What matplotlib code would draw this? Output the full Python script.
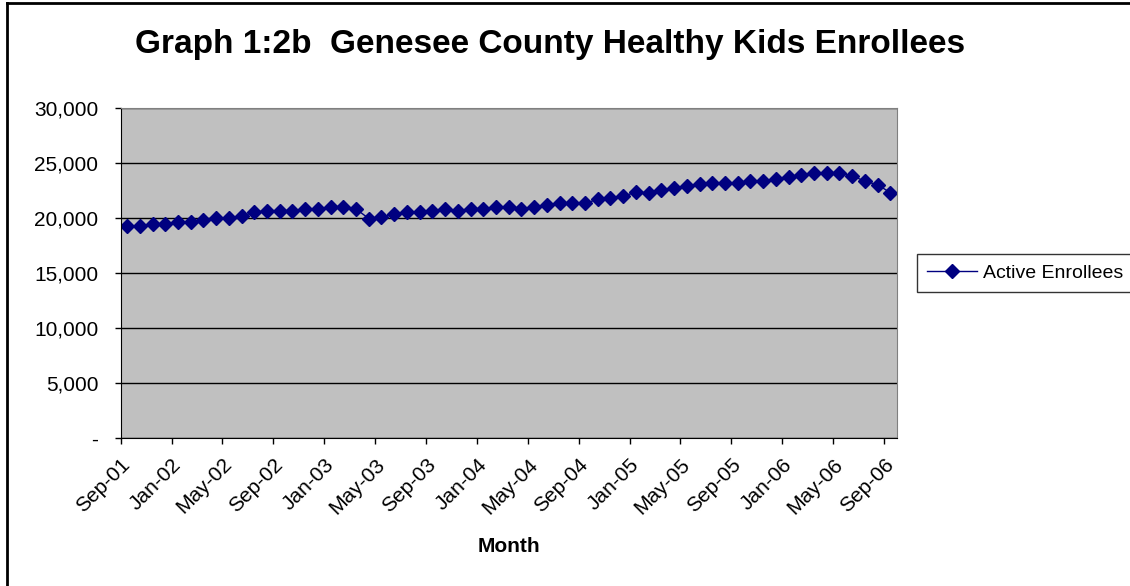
import numpy as np
import matplotlib.pyplot as plt
from matplotlib.lines import Line2D
from matplotlib.ticker import FixedLocator, FuncFormatter

plt.rcParams['font.family'] = ['Liberation Sans', 'DejaVu Sans']

# monthly active enrollees, Sep-01 .. Sep-06
enrollees = [19300, 19300, 19450, 19450, 19640, 19640, 19820, 19970, 19970, 20180,
             20520, 20670, 20670, 20670, 20820, 20820, 21030, 21030, 20820, 19950,
             20120, 20330, 20520, 20520, 20670, 20850, 20670, 20850, 20850, 21000,
             21000, 20820, 21000, 21180, 21330, 21330, 21330, 21700, 21850, 22000,
             22330, 22300, 22550, 22700, 22900, 23060, 23210, 23210, 23210, 23390,
             23390, 23570, 23760, 23940, 24060, 24060, 24060, 23850, 23330, 23030,
             22300]
tick_labels = ["Sep-01", "Jan-02", "May-02", "Sep-02", "Jan-03", "May-03", "Sep-03",
               "Jan-04", "May-04", "Sep-04", "Jan-05", "May-05", "Sep-05", "Jan-06",
               "May-06", "Sep-06"]
y_ticks = [0, 5000, 10000, 15000, 20000, 25000, 30000]

W, H = 1130, 586
fig = plt.figure(figsize=(W / 100, H / 100), dpi=100)
ax = fig.add_axes([120.7 / W, 1 - 438 / H, (896.7 - 120.7) / W, (438 - 108) / H])

x = np.arange(len(enrollees))
ax.plot(x, enrollees, "-", color="#000080", lw=1, marker="D", ms=7,
        mfc="#000080", mec="#000080", label="Active Enrollees")

ax.set_facecolor("#C0C0C0")
ax.set_xlim(-0.5, len(enrollees) - 0.5)
ax.set_ylim(0, 30000)
ax.yaxis.set_major_locator(FixedLocator(y_ticks))
ax.yaxis.set_major_formatter(FuncFormatter(lambda v, p: "-" if v == 0 else "{:,.0f}".format(v)))
ax.set_xticks(np.arange(0, len(enrollees), 4) - 0.5)
ax.set_xticklabels(tick_labels, rotation=45, ha="right", rotation_mode="anchor")
ax.grid(axis="y", color="black", lw=1)
ax.set_axisbelow(True)
ax.tick_params(axis="both", labelsize=15, length=4, width=1, color="black")
ax.tick_params(axis="y", pad=12)
ax.tick_params(axis="x", pad=8)
for s in ["top", "right"]:
    ax.spines[s].set_color("#808080")
for s in ["left", "bottom"]:
    ax.spines[s].set_color("black")

ax.set_xlabel("Month", fontsize=15, fontweight="bold", labelpad=14)
fig.text(550 / W, 1 - 45 / H, "Graph 1:2b  Genesee County Healthy Kids Enrollees",
         ha="center", va="center", fontsize=24, fontweight="bold")

leg = fig.legend(loc="center left", bbox_to_anchor=(917 / W, 1 - 273 / H),
                 fontsize=14, frameon=True, fancybox=False, handlelength=2.6,
                 handletextpad=0.3, borderpad=0.5, borderaxespad=0)
leg.get_frame().set_edgecolor("black")
leg.get_frame().set_linewidth(1)

# outer chart border (cut off at right and bottom)
fig.add_artist(Line2D([6.5 / W, 1.0], [1 - 3 / H, 1 - 3 / H], color="black", lw=2,
                      transform=fig.transFigure))
fig.add_artist(Line2D([6.5 / W, 6.5 / W], [0, 1 - 3 / H], color="black", lw=2,
                      transform=fig.transFigure))

fig.savefig("out.png", dpi=100)
